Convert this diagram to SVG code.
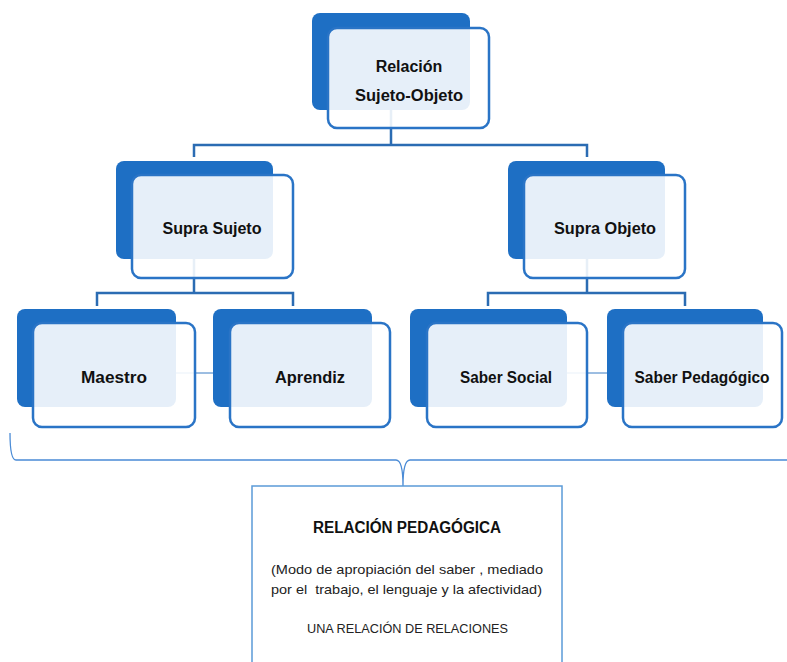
<svg xmlns="http://www.w3.org/2000/svg" width="787" height="662" viewBox="0 0 787 662">
<style>
.dk{fill:#1e6fc4;}
.lt{fill:#ffffff;fill-opacity:0.89;stroke:#2a74c6;stroke-width:2.5;}
.cn{fill:none;stroke:#2b6cb3;stroke-width:2.5;}
.thin{fill:none;stroke:#3a7cc4;stroke-width:1;}
.lbl{font-family:"Liberation Sans",Arial,sans-serif;font-weight:bold;font-size:16px;fill:#111;text-anchor:middle;}
.bx{font-family:"Liberation Sans",Arial,sans-serif;font-size:13px;fill:#222;}
</style>
<rect width="787" height="662" fill="#ffffff"/>
<g id="connectors">
<path class="cn" d="M391,110 V145 M194,157 V145 H587 V157"/>
<path class="cn" d="M194,259 V293 M97,306 V293 H293 V306"/>
<path class="cn" d="M587,259 V293 M488,306 V293 H685 V306"/>
<path class="thin" d="M176,373 H213"/>
<path class="thin" d="M567,373 H607"/>
<path d="M10,433 Q10,460 16,460 H396 Q403,460 403,486 Q403,460 410,460 H787" fill="none" stroke="#4a8bd6" stroke-width="1.3"/>
</g>
<g id="n-relacion">
<rect class="dk" x="312" y="13" width="158" height="97" rx="8"/>
<rect class="lt" x="328" y="28" width="161" height="100" rx="9"/>
<text class="lbl" x="409" y="72">Relación</text>
<text class="lbl" x="409" y="101" textLength="108" lengthAdjust="spacingAndGlyphs">Sujeto-Objeto</text>
</g>
<g id="n-supra-sujeto">
<rect class="dk" x="116" y="161" width="157" height="98" rx="8"/>
<rect class="lt" x="132" y="175" width="161" height="103" rx="9"/>
<text class="lbl" x="212" y="234" textLength="99" lengthAdjust="spacingAndGlyphs">Supra Sujeto</text>
</g>
<g id="n-supra-objeto">
<rect class="dk" x="508" y="161" width="157" height="98" rx="8"/>
<rect class="lt" x="524" y="175" width="161" height="103" rx="9"/>
<text class="lbl" x="605" y="234" textLength="102" lengthAdjust="spacingAndGlyphs">Supra Objeto</text>
</g>
<g id="n-maestro">
<rect class="dk" x="17" y="309" width="159" height="98" rx="8"/>
<rect class="lt" x="33" y="323" width="162" height="104" rx="9"/>
<text class="lbl" x="114" y="383" textLength="66" lengthAdjust="spacingAndGlyphs">Maestro</text>
</g>
<g id="n-aprendiz">
<rect class="dk" x="213" y="309" width="159" height="98" rx="8"/>
<rect class="lt" x="230" y="323" width="160" height="104" rx="9"/>
<text class="lbl" x="310" y="383" textLength="70" lengthAdjust="spacingAndGlyphs">Aprendiz</text>
</g>
<g id="n-saber-social">
<rect class="dk" x="410" y="309" width="157" height="98" rx="8"/>
<rect class="lt" x="427" y="323" width="160" height="104" rx="9"/>
<text class="lbl" x="506" y="383" textLength="92" lengthAdjust="spacingAndGlyphs">Saber Social</text>
</g>
<g id="n-saber-pedagogico">
<rect class="dk" x="607" y="309" width="156" height="98" rx="8"/>
<rect class="lt" x="623" y="323" width="159" height="104" rx="9"/>
<text class="lbl" x="702" y="383" textLength="135" lengthAdjust="spacingAndGlyphs">Saber Pedagógico</text>
</g>
<g id="n-relacion-pedagogica">
<rect x="252" y="486" width="310" height="190" fill="#ffffff" stroke="#5b9bd8" stroke-width="1.5"/>
<text class="lbl" x="407" y="533" textLength="188" lengthAdjust="spacingAndGlyphs">RELACIÓN PEDAGÓGICA</text>
<text class="bx" x="271" y="574" textLength="272" lengthAdjust="spacingAndGlyphs">(Modo de apropiación del saber , mediado</text>
<text class="bx" x="271" y="594" textLength="271" lengthAdjust="spacingAndGlyphs" xml:space="preserve">por el  trabajo, el lenguaje y la afectividad)</text>
<text class="bx" x="307" y="633" textLength="201" lengthAdjust="spacingAndGlyphs">UNA RELACIÓN DE RELACIONES</text>
</g>
</svg>
